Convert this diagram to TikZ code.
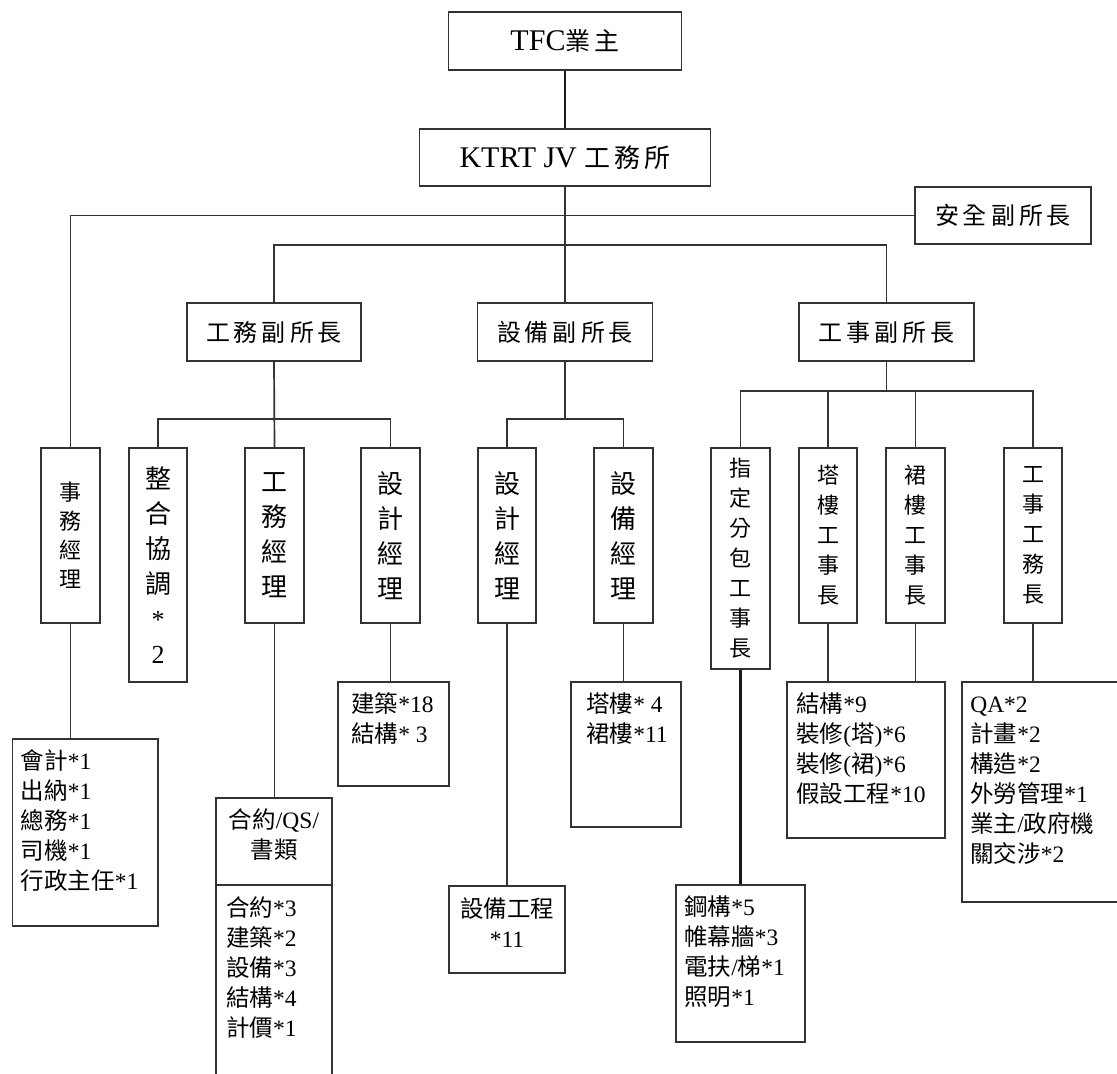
\documentclass[tikz,border=0pt]{standalone}
\usepackage{fontspec}
\setmainfont{Liberation Serif}
\newfontfamily\cjk{Noto Sans CJK TC}
\newcommand\C[1]{{\cjk #1}}
\makeatletter
\def\spc#1{\spc@a#1\@nil}
\def\spc@a#1{\ifx#1\@nil\unskip\else#1\hskip4pt\expandafter\spc@a\fi}
\makeatother
\definecolor{ln}{gray}{0.2}
\begin{document}
\begin{tikzpicture}[x=1pt,y=-1pt,
  bx/.style={draw=ln, line width=1.8pt, rectangle, inner sep=0pt, fill=white},
  conn/.style={draw=ln, line width=1.7pt},
  heavy/.style={draw=black!90, line width=2.8pt},
  lt/.style={anchor=north west, align=left, inner sep=0pt, font={\fontsize{23.5}{30}\selectfont}},
  ct/.style={align=center, inner sep=0pt, font={\fontsize{23.5}{30}\selectfont}},
  hd/.style={bx, font={\cjk\fontsize{24}{28}\selectfont}},
  vbig/.style={bx, align=center, font={\cjk\fontsize{26}{35}\selectfont}},
  vsml/.style={bx, align=center, font={\cjk\fontsize{22}{30}\selectfont}},
  vmid/.style={bx, align=center, font={\cjk\fontsize{22}{29}\selectfont}}
]
\fill[white] (0,0) rectangle (1117,1074);
\useasboundingbox (0,0) rectangle (1117,1074);

% top levels
\node[bx, minimum width=233, minimum height=58] (tfc) at (565,41)
  {\fontsize{30}{34}\selectfont TFC{\cjk\fontsize{25}{30}\selectfont\spc{業主}}};
\node[bx, minimum width=291, minimum height=57] (ktrt) at (565,157.5)
  {\fontsize{30}{34}\selectfont KTRT JV {\cjk\fontsize{26}{30}\selectfont\spc{工務所}}};
\node[hd, minimum width=176, minimum height=57] (safe) at (1003,215.5) {\spc{安全副所長}};
\node[hd, minimum width=174, minimum height=58] (vp1) at (274,332) {\spc{工務副所長}};
\node[hd, minimum width=175, minimum height=58] (vp2) at (565,332) {\spc{設備副所長}};
\node[hd, minimum width=175, minimum height=58] (vp3) at (886.5,332) {\spc{工事副所長}};

% managers
\node[vmid, minimum width=59, minimum height=175] (m1) at (70.5,535.5) {事\\務\\經\\理};
\node[vbig, minimum width=58, minimum height=234] (m2) at (158,565) {整\\合\\協\\調\\{\rmfamily *}\\{\rmfamily 2}};
\node[vbig, minimum width=59, minimum height=175] (m3) at (274.5,535.5) {工\\務\\經\\理};
\node[vbig, minimum width=59, minimum height=175] (m4) at (390.5,535.5) {設\\計\\經\\理};
\node[vbig, minimum width=58, minimum height=175] (m5) at (507,535.5) {設\\計\\經\\理};
\node[vbig, minimum width=59, minimum height=175] (m6) at (623.5,535.5) {設\\備\\經\\理};
\node[vsml, minimum width=59, minimum height=221] (m7) at (740.5,558.5) {指\\定\\分\\包\\工\\事\\長};
\node[vsml, minimum width=58, minimum height=175] (m8) at (828,535.5) {塔\\樓\\工\\事\\長};
\node[vsml, minimum width=59, minimum height=175] (m9) at (915.5,535.5) {裙\\樓\\工\\事\\長};
\node[vsml, minimum width=58, minimum height=175] (m10) at (1033,535.5) {工\\事\\工\\務\\長};

% staff boxes
\node[bx, minimum width=145.5, minimum height=187] (l1) at (85.25,832.5) {};
\node[bx, minimum width=116, minimum height=292] (l2) at (274,944) {};
\node[bx, minimum width=111, minimum height=104] (l3) at (393.5,734) {};
\node[bx, minimum width=116, minimum height=87] (l4) at (507,929.5) {};
\node[bx, minimum width=110, minimum height=145] (l5) at (626,754.5) {};
\node[bx, minimum width=129, minimum height=157] (l6) at (740.5,963.5) {};
\node[bx, minimum width=158, minimum height=156] (l7) at (866,760) {};
\node[bx, minimum width=158, minimum height=220] (l8) at (1041,792) {};

\node[lt] (t1) at ([shift={(9,10)}]l1.north west)
  {\strut\C{會計}*1\\\C{出納}*1\\\C{總務}*1\\\C{司機}*1\\\C{行政主任}*1};
\node[ct] (t2a) at (274,835) {\C{合約}/QS/\\\C{書類}};
\coordinate (dvL) at (216,885);
\coordinate (dvR) at (332,885);
\draw[conn] (dvL) -- (dvR);
\node[lt] (t2) at (226,895)
  {\strut\C{合約}*3\\\C{建築}*2\\\C{設備}*3\\\C{結構}*4\\\C{計價}*1};
\node[lt] (t3) at ([shift={(14,10)}]l3.north west) {\strut\C{建築}*18\\\C{結構}* 3};
\node[ct] (t4) at (507,922.5) {\C{設備工程}\\*11};
\node[lt] (t5) at ([shift={(16,10)}]l5.north west) {\strut\C{塔樓}* 4\\\C{裙樓}*11};
\node[lt] (t6) at ([shift={(9,10)}]l6.north west)
  {\strut\C{鋼構}*5\\\C{帷幕牆}*3\\\C{電扶}/\C{梯}*1\\\C{照明}*1};
\node[lt] (t7) at ([shift={(10,10)}]l7.north west)
  {\strut\C{結構}*9\\\C{裝修}(\C{塔})*6\\\C{裝修}(\C{裙})*6\\\C{假設工程}*10};
\node[lt] (t8) at ([shift={(9,10)}]l8.north west)
  {\strut QA*2\\\C{計畫}*2\\\C{構造}*2\\\C{外勞管理}*1\\\C{業主}/\C{政府機}\\\C{關交涉}*2};

% connectors
\draw[heavy] (tfc.south) -- (ktrt.north);
\draw[conn] (ktrt.south) -- (vp2.north);
\draw[conn] (m1.north) |- (safe.west);
\coordinate (bus2) at (565,245);
\draw[conn] (vp1.north) |- (bus2) -| (vp3.north);
\coordinate (b1) at (274.5,419);
\draw[conn] (vp1.south) -- (m3.north);
\draw[conn] (m2.north) |- (b1) -| (m4.north);
\coordinate (b2) at (565,419);
\draw[conn] (vp2.south) -- (b2);
\draw[conn] (m5.north) |- (b2) -| (m6.north);
\coordinate (b3) at (886.5,391);
\draw[conn] (vp3.south) -- (b3);
\draw[conn] (m7.north) |- (b3) -| (m10.north);
\draw[conn] (m8.north) -- (m8.north |- b3);
\draw[conn] (m9.north) -- (m9.north |- b3);
\draw[conn] (m1.south) -- (m1.south |- l1.north);
\draw[conn] (m3.south) -- (m3.south |- l2.north);
\draw[conn] (m4.south) -- (m4.south |- l3.north);
\draw[conn] (m5.south) -- (m5.south |- l4.north);
\draw[conn] (m6.south) -- (m6.south |- l5.north);
\draw[heavy] (m7.south) -- (m7.south |- l6.north);
\draw[conn] (m8.south) -- (m8.south |- l7.north);
\draw[conn] (m9.south) -- (m9.south |- l7.north);
\draw[conn] (m10.south) -- (m10.south |- l8.north);
\end{tikzpicture}
\end{document}
